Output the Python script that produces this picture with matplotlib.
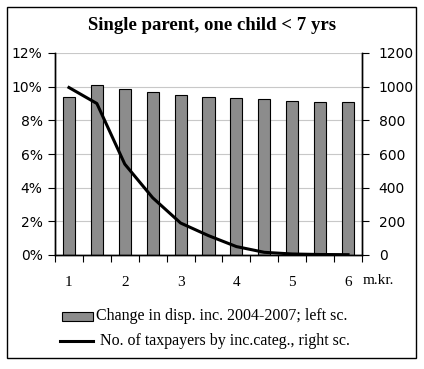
import numpy as np
import matplotlib.pyplot as plt
from matplotlib.patches import Rectangle
from matplotlib.lines import Line2D
from matplotlib.ticker import FixedLocator

# data
income = [1, 1.5, 2, 2.5, 3, 3.5, 4, 4.5, 5, 5.5, 6]   # m.kr.
change_pct = [9.4, 10.1, 9.85, 9.7, 9.5, 9.4, 9.33, 9.27, 9.15, 9.1, 9.1]   # left scale, %
taxpayers = [995, 900, 540, 340, 190, 115, 50, 16, 6, 3, 2]   # right scale
xlabels = ['1', '', '2', '', '3', '', '4', '', '5', '', '6']

serif = 'Liberation Serif'

fig = plt.figure(figsize=(4.24, 3.69), dpi=100)
ax = fig.add_axes([55/424, 1 - 255/369, (362 - 55)/424, (255 - 53)/369])
ax2 = ax.twinx()

pos = np.arange(len(income))
ax.bar(pos, change_pct, width=0.43, color='#8c8c8c', edgecolor='black', linewidth=0.8, zorder=2)
ax.set_xlim(-0.5, len(income) - 0.5)
ax.set_ylim(0, 12)
ax.set_yticks(np.arange(0, 13, 2))
ax.set_yticklabels([f'{v}%' for v in range(0, 13, 2)], fontsize=10, family='DejaVu Sans')
ax.yaxis.grid(True, color='#c8c8c8', linewidth=0.8, zorder=0)
ax.set_axisbelow(True)

# category boundaries as tick marks, labels at every second category
ax.xaxis.set_major_locator(FixedLocator(np.arange(-0.5, len(income), 1)))
ax.set_xticklabels([])
ax.xaxis.set_minor_locator(FixedLocator(pos))
ax.set_xticklabels(xlabels, minor=True, fontsize=11, family=serif)
ax.tick_params(axis='x', which='minor', length=0, pad=15)
ax.tick_params(axis='x', which='major', length=5, direction='out')
ax.tick_params(axis='y', length=5, direction='out', pad=4)
ax.text(363/424, 1 - 280/369, 'm.kr.', transform=fig.transFigure,
        fontsize=11, family=serif, ha='left', va='center')

ax2.plot(pos, taxpayers, color='black', linewidth=2.2, zorder=3)
ax2.set_ylim(0, 1200)
ax2.set_yticks(np.arange(0, 1201, 200))
ax2.set_yticklabels([str(v) for v in range(0, 1201, 200)], fontsize=10, family='DejaVu Sans')
ax2.tick_params(axis='y', length=5, direction='out', pad=7)

for a in (ax, ax2):
    a.spines['top'].set_visible(False)
    a.spines['left'].set_linewidth(1)
    a.spines['right'].set_linewidth(1)
    a.spines['bottom'].set_linewidth(1)

fig.text(0.5, 1 - 26/369, 'Single parent, one child < 7 yrs', ha='center', va='center',
         fontsize=13.5, fontweight='bold', family=serif)

# legend
fig.patches.append(Rectangle((62/424, 1 - 321/369), 31/424, 9/369, transform=fig.transFigure,
                             facecolor='#8c8c8c', edgecolor='black', linewidth=0.8))
fig.text(96/424, 1 - 316/369, 'Change in disp. inc. 2004-2007; left sc.', fontsize=11.5,
         family=serif, va='center', ha='left')
fig.lines.append(Line2D([60/424, 93/424], [1 - 341/369, 1 - 341/369], transform=fig.transFigure,
                        color='black', linewidth=2.2))
fig.text(100/424, 1 - 341/369, 'No. of taxpayers by inc.categ., right sc.', fontsize=11.5,
         family=serif, va='center', ha='left')

# outer frame
fig.patches.append(Rectangle((7/424, 1 - 358/369), 409/424, 351/369, transform=fig.transFigure,
                             facecolor='none', edgecolor='black', linewidth=1))

fig.savefig('out.png', dpi=100)
